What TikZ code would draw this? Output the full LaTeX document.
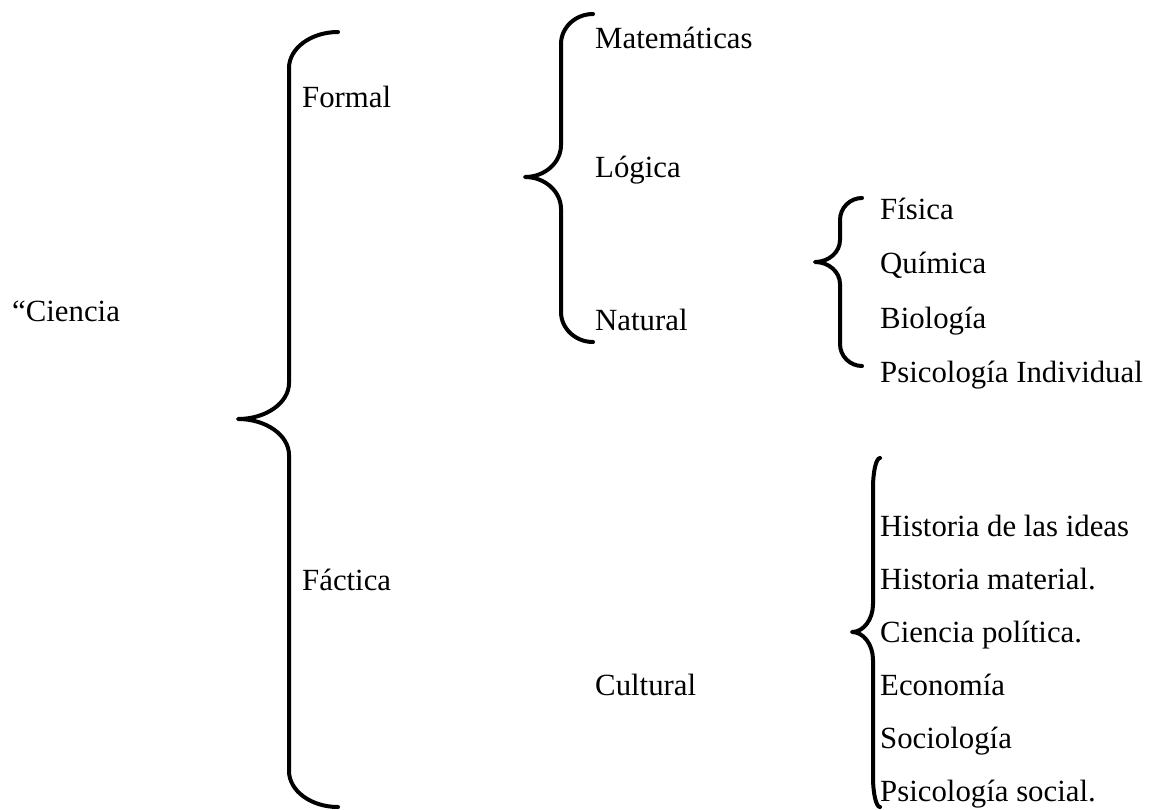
\documentclass[tikz,border=0pt]{standalone}
\usepackage{fontspec}
\setmainfont{Liberation Serif}
\begin{document}
\begin{tikzpicture}[x=1pt,y=-1pt,
  lbl/.style={anchor=base west,inner sep=0pt,font=\fontsize{30.8}{36}\selectfont},
  brc/.style={line width=4pt,line cap=round,line join=round}]
\useasboundingbox (0,0) rectangle (1161,809);
% texts
\node[lbl] (ciencia) at (12,321) {“Ciencia};
\node[lbl] (formal) at (302,107) {Formal};
\node[lbl] (factica) at (302,590) {Fáctica};
\node[lbl] (mate) at (595,48) {Matemáticas};
\node[lbl] (logica) at (595,177) {Lógica};
\node[lbl] (natural) at (595,330) {Natural};
\node[lbl] (cultural) at (595,695) {Cultural};
\node[lbl] (fisica) at (880,219) {Física};
\node[lbl] (quimica) at (880,273) {Química};
\node[lbl] (biologia) at (880,328) {Biología};
\node[lbl] (psicind) at (880,382) {Psicología Individual};
\node[lbl] (hideas) at (880,536) {Historia de las ideas};
\node[lbl] (hmat) at (880,589) {Historia material.};
\node[lbl] (cpol) at (880,642) {Ciencia política.};
\node[lbl] (econ) at (880,695) {Economía};
\node[lbl] (socio) at (880,748) {Sociología};
\node[lbl] (psisoc) at (880,801) {Psicología social.};
% braces: {xline}{xend}{ytop}{xtip}{ytip}{ybot}{r ends}{r tip}
\newcommand{\mybrace}[8]{%
  \draw[brc] (#2,#3) .. controls ({#1+0.45*(#2-#1)},#3) and (#1,{#3+0.45*#7}) .. (#1,#3+#7)
     -- (#1,#5-#8) .. controls (#1,{#5-0.45*#8}) and ({#1-0.45*(#1-#4)},#5) .. (#4,#5)
     .. controls ({#1-0.45*(#1-#4)},#5) and (#1,{#5+0.45*#8}) .. (#1,#5+#8)
     -- (#1,#6-#7) .. controls (#1,{#6-0.45*#7}) and ({#1+0.45*(#2-#1)},#6) .. (#2,#6);}
\mybrace{289}{338}{32}{238}{419}{807}{36}{36}
\mybrace{561}{593}{14}{525}{177}{342}{30}{32}
\mybrace{840}{862}{198}{815}{262}{366}{22}{22}
\mybrace{873}{880}{458}{852}{632}{807}{30}{28}
\end{tikzpicture}
\end{document}
